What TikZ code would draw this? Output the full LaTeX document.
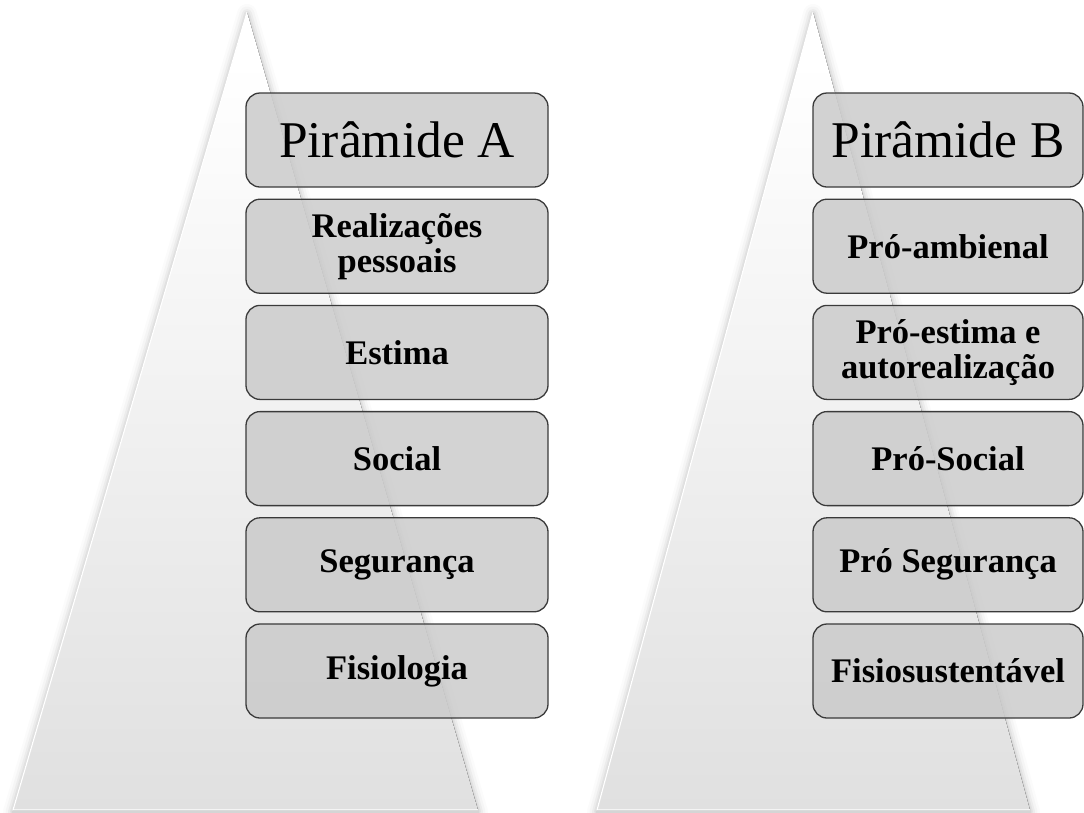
\documentclass[tikz,border=0pt]{standalone}
\usepackage{fontspec}
\setmainfont{Liberation Serif}
\definecolor{boxfill}{HTML}{CBCBCB}
\definecolor{boxline}{HTML}{3A3A3A}
\definecolor{tribottom}{HTML}{E0E0E0}
\pgfdeclareverticalshading{trishade}{100bp}{color(0bp)=(tribottom); color(25bp)=(tribottom); color(50bp)=(tribottom!45!white); color(72bp)=(white); color(100bp)=(white)}
\begin{document}
\begin{tikzpicture}[x=1pt,y=-1pt,
  lvl/.style={draw=boxline, line width=1.3pt, fill=boxfill, fill opacity=0.85, text opacity=1,
    rounded corners=14pt, minimum height=94pt, inner sep=2pt, align=center,
    font=\bfseries\fontsize{34.5}{35}\selectfont},
  ttl/.style={lvl, font=\fontsize{51.5}{55}\selectfont},
  lbox/.style={minimum width=302pt},
  rbox/.style={minimum width=270pt},
  trifill/.style={shading=trishade},
  triedge/.style={draw=white, line width=1.2pt, line join=round}]
\useasboundingbox (0,0) rectangle (1084,812);

% pyramid corners
\coordinate (LA) at (247,12);
\coordinate (LB) at (13,810);
\coordinate (LC) at (478,810);
\coordinate (RA) at (813,12);
\coordinate (RB) at (597,810);
\coordinate (RC) at (1030,810);

% soft shadows
\foreach \w/\o in {20/0.015,15/0.025,10/0.035,6/0.045,3/0.06}{
  \draw[line width=\w pt, opacity=\o, line join=round, transform canvas={yshift=-2pt}]
    (LA) -- (LB) -- (LC) -- cycle;
  \draw[line width=\w pt, opacity=\o, line join=round, transform canvas={yshift=-2pt}]
    (RA) -- (RB) -- (RC) -- cycle;
}
\draw[gray!75, line width=1.8pt] (LB) -- (LC);
\draw[gray!75, line width=1.8pt] (RB) -- (RC);

% pyramids
\fill[trifill] (LA) -- (LB) -- (LC) -- cycle;
\draw[triedge] (LA) -- (LB) -- (LC);
\fill[trifill] (RA) -- (RB) -- (RC) -- cycle;
\draw[triedge] (RA) -- (RB) -- (RC);

% left stack
\node[ttl, lbox] (a0) at (397,140)   {Pirâmide A};
\node[lvl, lbox] (a1) at (397,246.2) {Realizações\\pessoais};
\node[lvl, lbox] (a2) at (397,352.4) {Estima};
\node[lvl, lbox] (a3) at (397,458.6) {Social};
\node[lvl, lbox] (a4) at (397,564.8) {Segurança};
\node[lvl, lbox] (a5) at (397,671)   {Fisiologia};

% right stack
\node[ttl, rbox] (b0) at (948,140)   {Pirâmide B};
\node[lvl, rbox] (b1) at (948,246.2) {Pró-ambienal};
\node[lvl, rbox] (b2) at (948,352.4) {Pró-estima e\\autorealização};
\node[lvl, rbox] (b3) at (948,458.6) {Pró-Social};
\node[lvl, rbox] (b4) at (948,564.8) {Pró Segurança};
\node[lvl, rbox] (b5) at (948,671)   {Fisiosustentável};
\end{tikzpicture}
\end{document}
